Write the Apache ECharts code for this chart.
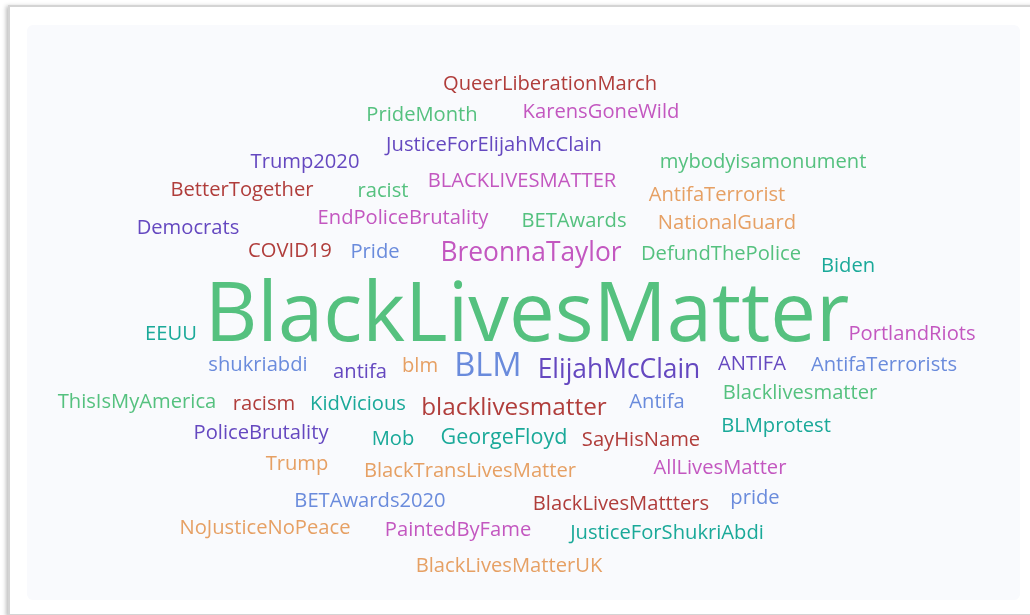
<!DOCTYPE html>
<html>
<head>
<meta charset="utf-8">
<script src="https://cdn.jsdelivr.net/npm/echarts@6/dist/echarts.min.js"></script>
<style>
  html, body { margin: 0; padding: 0; background: #fff; overflow: hidden; }
  .card { position: absolute; left: 8px; top: 5px; width: 1040px; height: 607px;
          border: 2px solid #d4d4d4; border-right: none; box-shadow: -2px 1px 4px rgba(0,0,0,0.25); background: #fff; }
  .panel { position: absolute; left: 27px; top: 25px; width: 993px; height: 575px;
           background: #f9fafd; border-radius: 6px; }
  #main { position: absolute; left: 0; top: 0; width: 1030px; height: 615px; }
</style>
</head>
<body>
<div class="card"></div>
<div class="panel"></div>
<div id="main"></div>
<script>
// hashtags and their counts
const words = ['BlackLivesMatter', 'BLM', 'BreonnaTaylor', 'ElijahMcClain', 'blacklivesmatter', 'GeorgeFloyd',
  'QueerLiberationMarch', 'PrideMonth', 'KarensGoneWild', 'JusticeForElijahMcClain', 'Trump2020', 'mybodyisamonument',
  'BetterTogether', 'racist', 'BLACKLIVESMATTER', 'AntifaTerrorist', 'Democrats', 'EndPoliceBrutality',
  'BETAwards', 'NationalGuard', 'COVID19', 'Pride', 'DefundThePolice', 'Biden', 'EEUU', 'PortlandRiots',
  'shukriabdi', 'antifa', 'blm', 'ANTIFA', 'AntifaTerrorists', 'ThisIsMyAmerica', 'racism', 'KidVicious',
  'Antifa', 'Blacklivesmatter', 'PoliceBrutality', 'Mob', 'SayHisName', 'BLMprotest', 'Trump',
  'BlackTransLivesMatter', 'AllLivesMatter', 'BETAwards2020', 'BlackLivesMattters', 'pride',
  'NoJusticeNoPeace', 'PaintedByFame', 'JusticeForShukriAbdi', 'BlackLivesMatterUK'];
const counts = [100, 29, 20, 20, 17, 13,
  11, 11, 11, 11, 11, 11,
  11, 11, 11, 11, 11, 11,
  11, 11, 11, 11, 11, 11, 11, 11,
  11, 11, 11, 11, 11, 11, 11, 11,
  11, 11, 11, 11, 11, 11, 11,
  11, 11, 11, 11, 11,
  11, 11, 11, 11];

// layout (word centres, page pixels)
const layoutX = [527, 488, 531, 619, 514, 504,
  550, 422, 601, 494, 305, 763,
  242, 383, 522, 717, 188, 403,
  574, 727, 290, 375, 721, 848, 171, 912,
  258, 360, 420, 752, 884, 137, 264, 358,
  657, 800, 261, 393, 641, 776, 297,
  470, 720, 370, 621, 755,
  265, 458, 667, 509];
const layoutY = [318, 367, 253, 370, 408, 438,
  84, 115, 112, 145, 162, 162,
  190, 191, 181, 195, 228, 218,
  221, 223, 251, 252, 254, 266, 334, 334,
  365, 372, 366, 364, 365, 402, 404, 404,
  402, 393, 433, 439, 440, 426, 464,
  471, 468, 501, 504, 498,
  528, 530, 533, 566];

const palette = ['#55c17f', '#6548c0', '#b03d3b', '#c357c0', '#6a8bdc', '#1aa999', '#e6a064'];
// 0 green, 1 purple, 2 red, 3 magenta, 4 blue, 5 teal, 6 orange
const colorIdx = [0, 4, 3, 1, 2, 5,
  2, 0, 3, 1, 1, 0,
  2, 0, 3, 6, 1, 3,
  0, 6, 2, 4, 0, 5, 5, 3,
  4, 1, 6, 1, 4, 0, 2, 5,
  4, 0, 1, 5, 2, 5, 6,
  6, 3, 4, 2, 4,
  6, 3, 5, 6];

const minC = 10, maxC = 100, minSize = 19.5, maxSize = 81.5;
const sizeOf = c => minSize + (c - minC) / (maxC - minC) * (maxSize - minSize);

const chart = echarts.init(document.getElementById('main'));
chart.setOption({
  animation: false,
  grid: {left: 0, right: 0, top: 0, bottom: 0},
  xAxis: {type: 'value', min: 0, max: 1030, show: false},
  yAxis: {type: 'value', min: 0, max: 615, inverse: true, show: false},
  series: [{
    type: 'scatter',
    symbolSize: 0,
    itemStyle: {opacity: 1},
    data: words.map((w, i) => ({
      name: w,
      value: [layoutX[i], layoutY[i], counts[i]],
      label: {
        fontSize: sizeOf(counts[i]),
        color: palette[colorIdx[i]]
      }
    })),
    label: {
      show: true,
      position: 'inside',
      formatter: '{b}',
      fontFamily: 'Open Sans',
      fontWeight: 'normal',
      align: 'center',
      verticalAlign: 'middle'
    }
  }]
});
</script>
</body>
</html>
